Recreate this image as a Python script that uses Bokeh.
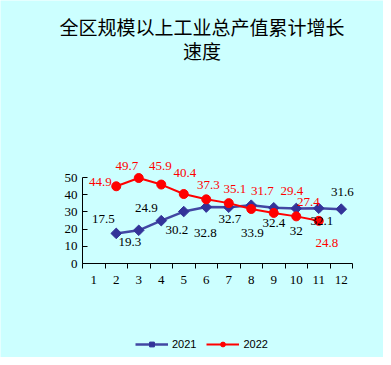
from bokeh.plotting import figure
from bokeh.models import (Range1d, FixedTicker, ColumnDataSource, LabelSet, Label,
                          Legend, LegendItem)
from bokeh.embed import file_html
from bokeh.resources import INLINE
import numpy as np

# ---- data ----
title_line1 = "全区规模以上工业总产值累计增长"
title_line2 = "速度"
months = list(range(1, 13))
month_labels = [str(m) for m in months]
y_ticks = [0, 10, 20, 30, 40, 50]

x2021 = [2, 3, 4, 5, 6, 7, 8, 9, 10, 11, 12]
v2021 = [17.5, 19.3, 24.9, 30.2, 32.8, 32.7, 33.9, 32.4, 32, 32.1, 31.6]
x2022 = [2, 3, 4, 5, 6, 7, 8, 9, 10, 11]
v2022 = [44.9, 49.7, 45.9, 40.4, 37.3, 35.1, 31.7, 29.4, 27.4, 24.8]

# label pixel offsets (layout only)
dx2021 = [-13, -9, -15, -7, -1, 1, 1, 0, 0, 3, 1]
dy2021 = [14, -12, 13, -18, -26, -12, -28, -15, -23, -13, 17]
dx2022 = [-16, -12, -1, 1, 2, 6, 11, 18, 12, 8]
dy2022 = [4, 12, 19, 21, 14, 14, 18, 22, 14, -22]

BG = "#CCFFFF"
BLUE = "#333399"
RED = "#FF0000"
NUMFONT = "Liberation Serif"
NUMSIZE = "13px"

# layout (pixels)
PX_X = 22.5      # px per month
PX_Y = 1.72      # px per percentage point
AXIS_Y_PX = 263  # y pixel of the value-0 axis line
AXIS_X_PX = 82   # x pixel of the left axis line
W, H = 383, 357

p = figure(width=W, height=H, output_backend="svg", toolbar_location=None, title=None,
           x_range=Range1d(0.5 - AXIS_X_PX / PX_X, 0.5 + (W - AXIS_X_PX) / PX_X),
           y_range=Range1d(-(H - AXIS_Y_PX) / PX_Y, AXIS_Y_PX / PX_Y),
           min_border_left=0, min_border_right=0, min_border_top=0,
           min_border_bottom=0)
p.background_fill_color = BG
p.border_fill_color = BG
p.outline_line_color = None
p.grid.visible = False

# axes
xa = p.xaxis[0]
xa.fixed_location = 0
xa.ticker = FixedTicker(ticks=months, minor_ticks=[m - 0.5 for m in months] + [12.5])
xa.major_label_overrides = {m: l for m, l in zip(months, month_labels)}
xa.major_tick_out = 0
xa.major_tick_in = 0
xa.minor_tick_out = 5
xa.minor_tick_in = 0
xa.axis_line_color = "black"
xa.minor_tick_line_color = "black"
xa.major_label_text_font = NUMFONT
xa.major_label_text_font_size = NUMSIZE
xa.major_label_text_color = "black"
xa.major_label_standoff = 7
xa.bounds = (0.5, 12.5)

ya = p.yaxis[0]
ya.fixed_location = 0.5
ya.ticker = FixedTicker(ticks=y_ticks)
ya.bounds = (0, 50)
ya.major_tick_out = 0
ya.major_tick_in = 5
ya.minor_tick_out = 0
ya.minor_tick_in = 0
ya.axis_line_color = "black"
ya.major_tick_line_color = "black"
ya.major_label_text_font = NUMFONT
ya.major_label_text_font_size = NUMSIZE
ya.major_label_text_color = "black"
ya.major_label_standoff = 5

s21 = ColumnDataSource(dict(x=x2021, y=v2021, t=[str(v) for v in v2021],
                            dx=dx2021, dy=dy2021))
s22 = ColumnDataSource(dict(x=x2022, y=v2022, t=[str(v) for v in v2022],
                            dx=dx2022, dy=dy2022))

l21 = p.line("x", "y", source=s21, line_color=BLUE, line_width=2.5, line_alpha=0.9)
m21 = p.scatter("x", "y", source=s21, marker="square", angle=np.pi / 4, size=7.5,
                fill_color=BLUE, line_color=BLUE)
l22 = p.line("x", "y", source=s22, line_color=RED, line_width=2)
m22 = p.scatter("x", "y", source=s22, marker="circle", size=9,
                fill_color=RED, line_color=RED)

p.add_layout(LabelSet(x="x", y="y", text="t", source=s21, x_offset="dx", y_offset="dy",
                      text_align="center", text_baseline="middle",
                      text_font=NUMFONT, text_font_size=NUMSIZE, text_color="black"))
p.add_layout(LabelSet(x="x", y="y", text="t", source=s22, x_offset="dx", y_offset="dy",
                      text_align="center", text_baseline="middle",
                      text_font=NUMFONT, text_font_size=NUMSIZE, text_color=RED))

# title (screen offsets from the plot's bottom-left)
p.add_layout(Label(x=201.5, y=331, x_units="screen", y_units="screen", text=title_line1,
                   text_align="center", text_baseline="middle",
                   text_font="Noto Sans CJK SC", text_font_size="19px", text_color="black"))
p.add_layout(Label(x=201.5, y=307, x_units="screen", y_units="screen", text=title_line2,
                   text_align="center", text_baseline="middle",
                   text_font="Noto Sans CJK SC", text_font_size="19px", text_color="black"))

legend = Legend(items=[LegendItem(label="2021", renderers=[l21, m21]),
                       LegendItem(label="2022", renderers=[l22, m22])],
                orientation="horizontal", location=(135, 7),
                glyph_width=33, glyph_height=12, label_standoff=4, spacing=10,
                padding=0, margin=0, border_line_alpha=0, background_fill_alpha=0,
                label_text_font="Liberation Sans", label_text_font_size="11px",
                label_text_color="black")
p.add_layout(legend)

open("out.html", "w").write(file_html(p, INLINE))
